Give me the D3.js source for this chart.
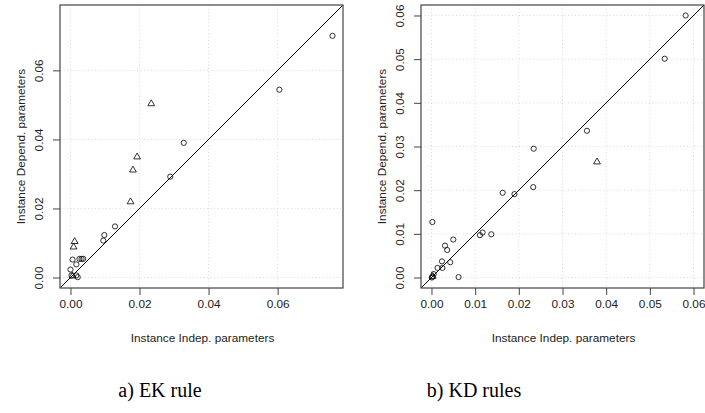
<!DOCTYPE html>
<html>
<head>
<meta charset="utf-8">
<script src="https://cdn.jsdelivr.net/npm/d3@7"></script>
<style>
  body { margin: 0; background: #fff; }
  svg { display: block; }
</style>
</head>
<body>
<svg id="chart" width="705" height="413"></svg>
<script>
// a) EK rule
const ekCircX = [0.0759, 0.0605, 0.0328, 0.0289, 0.0129, 0.0098, 0.0095, 0.0006, 0.0026, 0.0032, 0.0037, 0.0017, 0.0000, 0.0003, 0.0017, 0.0021]
const ekCircY = [0.0700, 0.0544, 0.0390, 0.0292, 0.0148, 0.0123, 0.0107, 0.0052, 0.0054, 0.0054, 0.0054, 0.0038, 0.0023, 0.0006, 0.0006, 0.0001]
const ekTriX = [0.0234, 0.0193, 0.0181, 0.0174, 0.0012, 0.0009, 0.0006]
const ekTriY = [0.0505, 0.0351, 0.0313, 0.0221, 0.0106, 0.0090, 0.0006]
const ekTicks = [0, 0.02, 0.04, 0.06]

// b) KD rules
const kdCircX = [0.0582, 0.0534, 0.0356, 0.0234, 0.0233, 0.0163, 0.0190, 0.0002, 0.0117, 0.0111, 0.0137, 0.0050, 0.0031, 0.0036, 0.0024, 0.0043, 0.0014, 0.0025, 0.0062, 0.0005, 0.0002, 0.0001]
const kdCircY = [0.0600, 0.0501, 0.0336, 0.0295, 0.0207, 0.0194, 0.0191, 0.0127, 0.0103, 0.0097, 0.0099, 0.0087, 0.0073, 0.0063, 0.0037, 0.0035, 0.0022, 0.0022, 0.0001, 0.0008, 0.0002, 0.0000]
const kdTriX = [0.0379, 0.0003]
const kdTriY = [0.0266, 0.0004]
const kdTicks = [0, 0.01, 0.02, 0.03, 0.04, 0.05, 0.06]

const xLabel = "Instance Indep. parameters"
const yLabel = "Instance Depend. parameters"

const svg = d3.select("#chart")
const font = "'Liberation Sans', Arial, sans-serif"

function drawPanel(left, caption, captionX, circX, circY, triX, triY, ticks) {
    let top = 5
    let size = 283
    // same limits on both axes, R style 4% padding
    let all = circX.concat(circY, triX, triY)
    let ext = d3.extent(all)
    let pad = (ext[1] - ext[0]) * 0.04
    let x = d3.scaleLinear().domain([ext[0] - pad, ext[1] + pad]).range([left, left + size])
    let y = d3.scaleLinear().domain([ext[0] - pad, ext[1] + pad]).range([top + size, top])

    let g = svg.append("g")
    let clipId = "clip" + left
    g.append("clipPath").attr("id", clipId)
        .append("rect").attr("x", left).attr("y", top).attr("width", size).attr("height", size)

    //grid
    g.selectAll(".gx").data(ticks).enter().append("line")
        .attr("x1", d => x(d)).attr("x2", d => x(d))
        .attr("y1", top).attr("y2", top + size)
        .style("stroke", "#cfcfcf").style("stroke-width", 0.8).style("stroke-dasharray", "1,2.5")
    g.selectAll(".gy").data(ticks).enter().append("line")
        .attr("y1", d => y(d)).attr("y2", d => y(d))
        .attr("x1", left).attr("x2", left + size)
        .style("stroke", "#cfcfcf").style("stroke-width", 0.8).style("stroke-dasharray", "1,2.5")

    // axes
    let xAxis = g.append("g").attr("transform", "translate(0," + (top + size) + ")")
        .call(d3.axisBottom(x).tickValues(ticks).tickFormat(d3.format(".2f")).tickSize(7).tickPadding(5))
    let yAxis = g.append("g").attr("transform", "translate(" + left + ",0)")
        .call(d3.axisLeft(y).tickValues(ticks).tickFormat(d3.format(".2f")).tickSize(7).tickPadding(5))
    xAxis.select(".domain").remove()
    yAxis.select(".domain").remove()
    xAxis.selectAll("line").style("stroke", "#444")
    yAxis.selectAll("line").style("stroke", "#444")
    xAxis.selectAll("text").style("font-family", font).style("font-size", "11.8px").style("fill", "#222")
    // R style: y tick labels parallel to the axis
    yAxis.selectAll("text")
        .attr("x", -17).attr("y", 0).attr("dy", "0")
        .attr("transform", "rotate(-90,-17,0)")
        .attr("text-anchor", "middle")
        .style("font-family", font).style("font-size", "11.8px").style("fill", "#222")

    // diagonal y = x
    g.append("line")
        .attr("clip-path", "url(#" + clipId + ")")
        .attr("x1", x(x.domain()[0])).attr("y1", y(x.domain()[0]))
        .attr("x2", x(x.domain()[1])).attr("y2", y(x.domain()[1]))
        .style("stroke", "#000").style("stroke-width", 1)

    // points
    g.selectAll(".circ").data(circX).enter().append("circle")
        .attr("cx", d => x(d))
        .attr("cy", (d, i) => y(circY[i]))
        .attr("r", 2.6)
        .style("fill", "none").style("stroke", "#000").style("stroke-width", 0.8)
    g.selectAll(".tri").data(triX).enter().append("path")
        .attr("d", d3.symbol(d3.symbolTriangle, 20))
        .attr("transform", (d, i) => "translate(" + x(d) + "," + (y(triY[i]) + 0.6) + ")")
        .style("fill", "none").style("stroke", "#000").style("stroke-width", 0.8)

    // box
    g.append("rect")
        .attr("x", left).attr("y", top).attr("width", size).attr("height", size)
        .style("fill", "none").style("stroke", "#444").style("stroke-width", 1.2)

    // labels
    g.append("text").text(xLabel)
        .attr("x", left + size / 2 + 1).attr("y", 342)
        .attr("text-anchor", "middle")
        .style("font-family", font).style("font-size", "11.8px").style("fill", "#222")
    g.append("text").text(yLabel)
        .attr("transform", "translate(" + (left - 35.5) + "," + (top + size / 2) + ") rotate(-90)")
        .attr("text-anchor", "middle")
        .style("font-family", font).style("font-size", "11.8px").style("fill", "#222")

    g.append("text").text(caption)
        .attr("x", captionX).attr("y", 397)
        .attr("text-anchor", "middle")
        .style("font-family", "'Liberation Serif', 'Times New Roman', serif")
        .style("font-size", "20px").style("fill", "#000")
}

drawPanel(60, "a) EK rule", 160, ekCircX, ekCircY, ekTriX, ekTriY, ekTicks)
drawPanel(421, "b) KD rules", 474, kdCircX, kdCircY, kdTriX, kdTriY, kdTicks)
</script>
</body>
</html>
